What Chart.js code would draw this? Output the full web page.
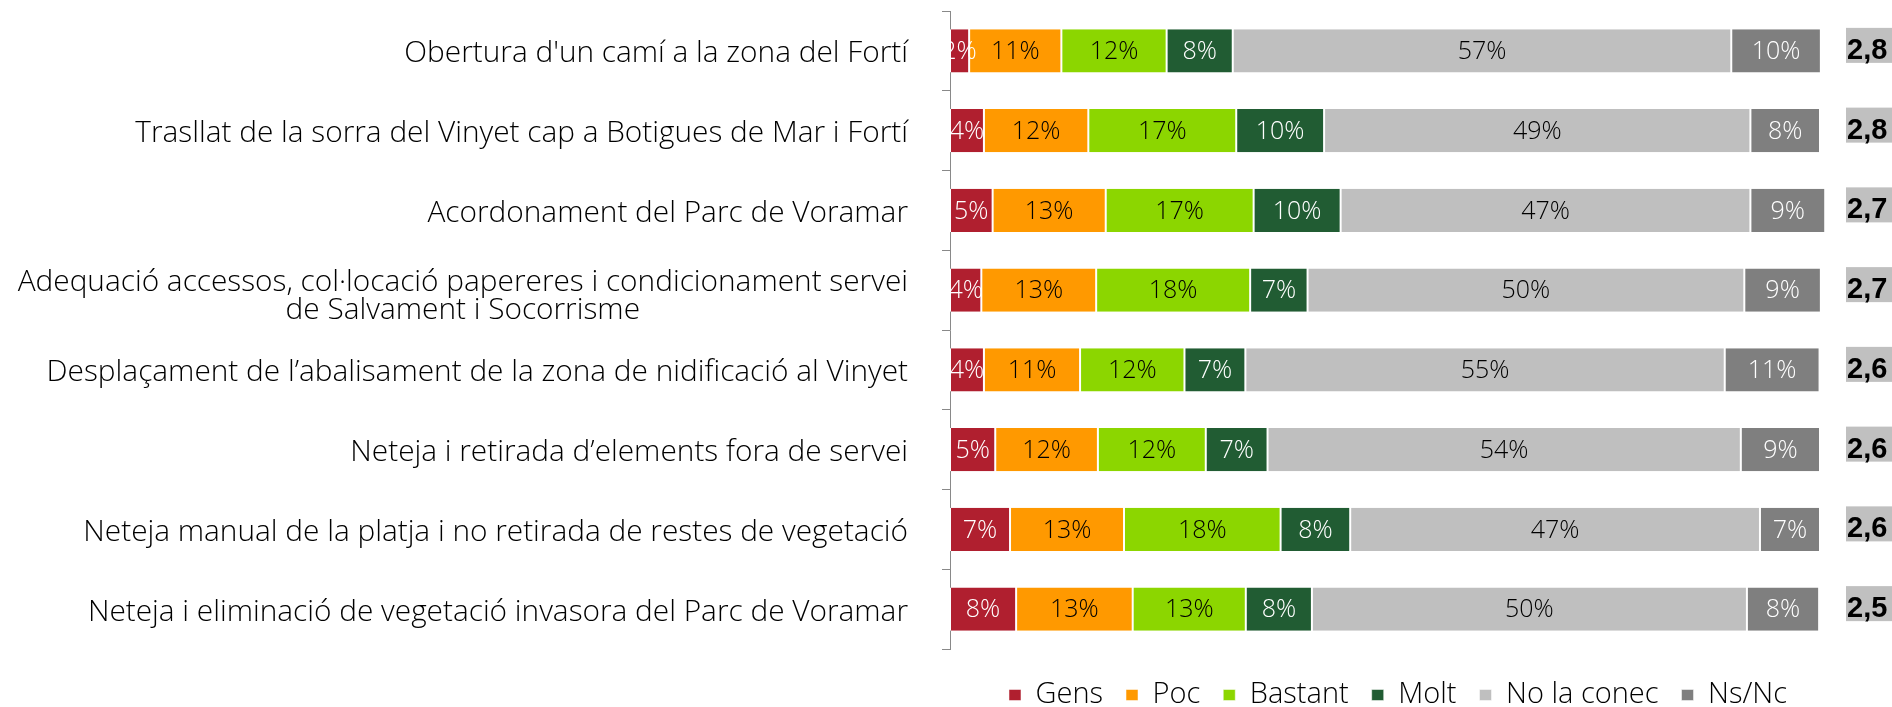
<!DOCTYPE html>
<html>
<head>
<meta charset="utf-8">
<script src="https://cdn.jsdelivr.net/npm/chart.js@4"></script>
<style>
  html, body { margin: 0; padding: 0; background: #fff; }
  #wrap { width: 1892px; height: 707px; position: relative; }
</style>
</head>
<body>
<div id="wrap"><canvas id="c" width="1892" height="707"></canvas></div>
<script>
const categories = [
  "Obertura d'un camí a la zona del Fortí",
  "Trasllat de la sorra del Vinyet cap a Botigues de Mar i Fortí",
  "Acordonament del Parc de Voramar",
  ["Adequació accessos, col·locació papereres i condicionament servei", "de Salvament i Socorrisme"],
  "Desplaçament de l’abalisament de la zona de nidificació al Vinyet",
  "Neteja i retirada d’elements fora de servei",
  "Neteja manual de la platja i no retirada de restes de vegetació",
  "Neteja i eliminació de vegetació invasora del Parc de Voramar"
];
const seriesNames = ["Gens", "Poc", "Bastant", "Molt", "No la conec", "Ns/Nc"];
const gens     = [2.2, 3.9, 4.9, 3.6, 3.9, 5.2, 6.9, 7.6];
const poc      = [10.6, 12.0, 13.0, 13.2, 11.05, 11.8, 13.1, 13.4];
const bastant  = [12.1, 17.0, 17.0, 17.7, 12.0, 12.4, 18.0, 13.0];
const molt     = [7.6, 10.1, 10.0, 6.6, 7.0, 7.1, 8.0, 7.6];
const noConec  = [57.3, 49.0, 47.1, 50.2, 55.1, 54.4, 47.1, 50.0];
const nsnc     = [10.3, 8.0, 8.6, 8.8, 10.9, 9.1, 6.9, 8.3];
const means    = [2.8, 2.8, 2.7, 2.7, 2.6, 2.6, 2.6, 2.5];

const colors     = ["#B01F2F", "#FF9900", "#8CD600", "#215C33", "#BFBFBF", "#7F7F7F"];
const textColors = ["#FFFFFF", "#000000", "#000000", "#FFFFFF", "#000000", "#FFFFFF"];
const FONT = "'Open Sans', 'Liberation Sans', sans-serif";

const seriesData = [gens, poc, bastant, molt, noConec, nsnc];

const datasets = seriesData.map((d, i) => ({
  label: seriesNames[i],
  data: d,
  backgroundColor: colors[i],
  borderColor: "#FFFFFF",
  borderWidth: { left: 1, right: 1, top: 0, bottom: 0 },
  borderSkipped: false,
  barPercentage: 0.54,
  categoryPercentage: 1.0,
  clip: false
}));

const valueLabels = {
  id: "valueLabels",
  afterDatasetsDraw(chart) {
    const ctx = chart.ctx;
    ctx.save();
    ctx.font = "300 25px " + FONT;
    ctx.textAlign = "center";
    ctx.textBaseline = "middle";
    chart.data.datasets.forEach((ds, di) => {
      const meta = chart.getDatasetMeta(di);
      meta.data.forEach((bar, i) => {
        const v = ds.data[i];
        const cx = (bar.x + bar.base) / 2;
        ctx.fillStyle = textColors[di];
        ctx.fillText(Math.round(v) + "%", cx, bar.y + 1);
      });
    });
    ctx.restore();
  }
};

const meanBoxes = {
  id: "meanBoxes",
  afterDatasetsDraw(chart) {
    const ctx = chart.ctx;
    const meta = chart.getDatasetMeta(0);
    const left = chart.chartArea.right + 26;
    ctx.save();
    ctx.font = "bold 29px 'Liberation Sans', Arial, sans-serif";
    ctx.textAlign = "left";
    ctx.textBaseline = "alphabetic";
    meta.data.forEach((bar, i) => {
      const y = bar.y;
      ctx.fillStyle = "#C0C0C0";
      ctx.fillRect(left, y - 23, 60, 35);
      ctx.fillStyle = "#000000";
      ctx.fillText(means[i].toFixed(1).replace(".", ","), left + 1, y + 8);
    });
    ctx.restore();
  }
};

const categoryLabels = {
  id: "categoryLabels",
  afterDraw(chart) {
    const ctx = chart.ctx;
    const sc = chart.scales.y;
    const right = sc.right - 42;
    const lh = 28;
    ctx.save();
    ctx.font = "300 29.8px " + FONT;
    ctx.fillStyle = "#000000";
    ctx.textBaseline = "middle";
    ctx.textAlign = "center";
    categories.forEach((lab, i) => {
      const lines = Array.isArray(lab) ? lab : [lab];
      const maxW = Math.max(...lines.map(l => ctx.measureText(l).width));
      const cx = right - maxW / 2;
      const n = lines.length;
      const y0 = sc.getPixelForValue(i) - (n - 1) * lh / 2 + 3 + (n - 1) * 3;
      lines.forEach((l, k) => ctx.fillText(l, cx, y0 + k * lh));
    });
    ctx.restore();
  }
};

const legendShift = {
  id: "legendShift",
  afterLayout(chart) {
    if (chart.legend) {
      chart.legend.left += 13;
      chart.legend.right += 13;
    }
  }
};

new Chart(document.getElementById("c"), {
  type: "bar",
  data: { labels: categories, datasets },
  plugins: [valueLabels, meanBoxes, categoryLabels, legendShift],
  options: {
    indexAxis: "y",
    responsive: false,
    animation: false,
    layout: { padding: { left: 0, right: 72, top: 11, bottom: -12.5 } },
    scales: {
      x: { stacked: true, display: false, min: 0, max: 100 },
      y: {
        stacked: true,
        afterFit(scale) { scale.width = 950; },
        ticks: { display: false },
        grid: { display: true, drawOnChartArea: false, drawTicks: true, tickLength: 8, color: "#898989", offset: true },
        border: { display: true, color: "#898989", width: 1 }
      }
    },
    plugins: {
      tooltip: { enabled: false },
      legend: {
        position: "bottom",
        fullSize: false,
        title: { display: true, text: "", padding: 0, font: { size: 8, lineHeight: 1.0625 } },
        labels: {
          boxWidth: 12,
          boxHeight: 11,
          padding: 23,
          color: "#000000",
          font: { size: 29, weight: "300", family: FONT }
        }
      }
    }
  }
});
</script>
</body>
</html>
